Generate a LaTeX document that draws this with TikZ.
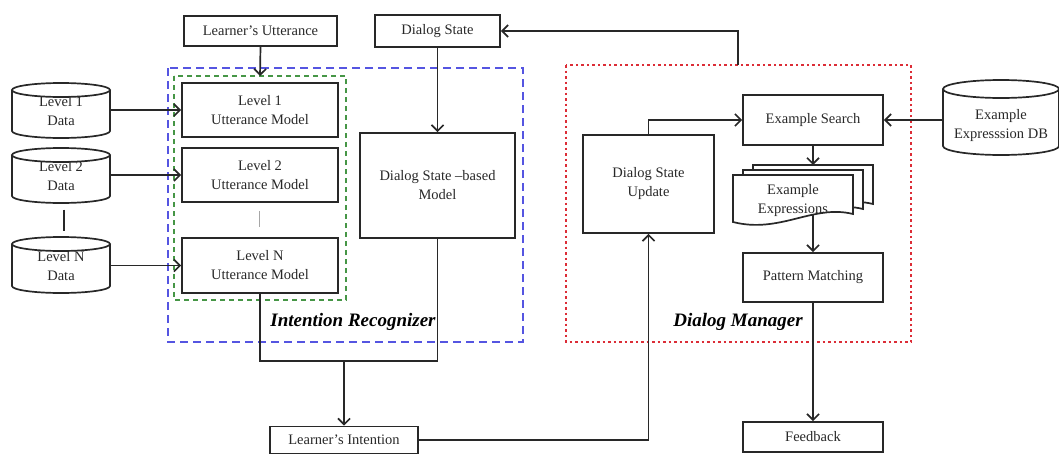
\documentclass[tikz,border=0pt]{standalone}
\usepackage{fontspec}
\setmainfont{Liberation Serif}
\usetikzlibrary{arrows.meta,calc}
\definecolor{bluedash}{RGB}{85,85,225}
\definecolor{greendash}{RGB}{70,150,70}
\definecolor{reddot}{RGB}{220,45,55}
\definecolor{ink}{RGB}{40,40,40}
\newcommand\boxfont{\fontsize{14.5}{19}\selectfont}
\newcommand\dbcyl[5]{% cx, top, bottom, rx, ry
  \draw[ln,fill=white] (#1-#4,#2) -- (#1-#4,#3) arc[start angle=180,end angle=0,x radius=#4,y radius=#5] -- (#1+#4,#2);
  \draw[ln] (#1,#2) ellipse[x radius=#4,y radius=#5];}
\begin{document}
\begin{tikzpicture}[x=1pt,y=-1pt,
  box/.style={draw=ink,line width=1.7pt,fill=white,align=center,inner sep=0pt,font=\boxfont,text=ink},
  dbtext/.style={draw=none,align=center,inner sep=0pt,font=\boxfont,text=ink},
  ln/.style={draw=ink,line width=1.7pt},
  arr/.style={draw=ink,line width=1.7pt,-{Straight Barb[length=6pt,width=12pt]}},
  lbl/.style={font=\fontsize{19}{21}\selectfont\bfseries\itshape,inner sep=0pt}]
\useasboundingbox (0,0) rectangle (1059,455);
% group frames
\draw[bluedash,line width=1.8pt,dash pattern=on 8pt off 5pt] (168,68) rectangle (523,342);
\draw[greendash,line width=1.1pt,dash pattern=on 5pt off 4pt] (174,76) rectangle (346,300);
\draw[reddot,line width=2pt,dash pattern=on 2.5pt off 3pt] (566,65) rectangle (911,342);
\coordinate (gtop) at (260,76);
\coordinate (redtop) at (738,65);
% boxes
\node[box,minimum width=153,minimum height=30] (lu) at (260.5,31) {Learner’s Utterance};
\node[box,minimum width=125,minimum height=32] (ds) at (437.5,31) {Dialog State};
\node[box,minimum width=156,minimum height=54] (l1) at (260,110) {Level 1\\Utterance Model};
\node[box,minimum width=156,minimum height=54] (l2) at (260,175) {Level 2\\Utterance Model};
\node[box,minimum width=156,minimum height=55] (lN) at (260,265.5) {Level N\\Utterance Model};
\node[box,minimum width=155,minimum height=105] (dsm) at (437.5,185.5) {Dialog State –based\\Model};
\node[box,minimum width=148,minimum height=27] (li) at (344,440) {Learner’s Intention};
\node[box,minimum width=131,minimum height=98] (dsu) at (648.5,184) {Dialog State\\Update};
\node[box,minimum width=140,minimum height=50] (es) at (813,120) {Example Search};
\node[box,minimum width=140,minimum height=49] (pm) at (813,277.5) {Pattern Matching};
\node[box,minimum width=140,minimum height=30] (fb) at (813,437) {Feedback};
% databases
\dbcyl{61}{90}{131}{49}{7}
\dbcyl{61}{155}{196}{49}{7}
\dbcyl{61}{244}{286}{49}{7}
\dbcyl{1001}{89}{146}{58}{9}
\node[dbtext,minimum width=98,minimum height=55] (d1) at (61,111) {Level 1\\Data};
\node[dbtext,minimum width=98,minimum height=55] (d2) at (61,176) {Level 2\\Data};
\node[dbtext,minimum width=98,minimum height=55] (dN) at (61,266) {Level N\\Data};
\node[dbtext,minimum width=116,minimum height=50] (db) at (1001,126) {Example\\Expresssion DB};
% example expressions (multi-document)
\coordinate (exback) at (813,165);
\draw[arr] (813,205) -- (pm.north);
\foreach \dx/\dy in {20/-10,10/-5,0/0}{
  \draw[ln,fill=white] (733+\dx,175+\dy) -- (853+\dx,175+\dy) -- (853+\dx,214+\dy)
    .. controls (813+\dx,204+\dy) and (780+\dx,234+\dy) .. (733+\dx,222+\dy) -- cycle;}
\node[dbtext] (exd) at (793,201) {Example\\Expressions};
% connectors
\draw[arr] (lu.south) -- (gtop);
\draw[arr] (ds.south) -- (dsm.north);
\draw[arr] (d1.east |- l1.west) -- (l1.west);
\draw[arr] (d2.east |- l2.west) -- (l2.west);
\draw[arr] (dN.east |- lN.west) -- (lN.west);
\draw[ln] ($(d2.south)+(3,6)$) -- ($(dN.north)+(3,-7)$);
\draw[gray!70,line width=0.6pt] ($(l2.south)+(-1,8)$) -- ($(lN.north)+(-1,-10)$);
\coordinate (join) at (344,361);
\draw[ln] (lN.south) |- (join);
\draw[ln] (dsm.south) |- (join);
\draw[arr] (join) -- (li.north);
\draw[arr] (li.east) -| (dsu.south);
\draw[arr] (dsu.north) |- (es.west);
\draw[arr] (db.west |- es.east) -- (es.east);
\draw[arr] (es.south) -- (exback);
\draw[arr] (pm.south) -- (fb.north);
\draw[arr] (redtop) |- (ds.east);
% labels
\node[lbl] (irl) at (353,322) {Intention Recognizer};
\node[lbl] (dml) at (738,322) {Dialog Manager};
\end{tikzpicture}
\end{document}
